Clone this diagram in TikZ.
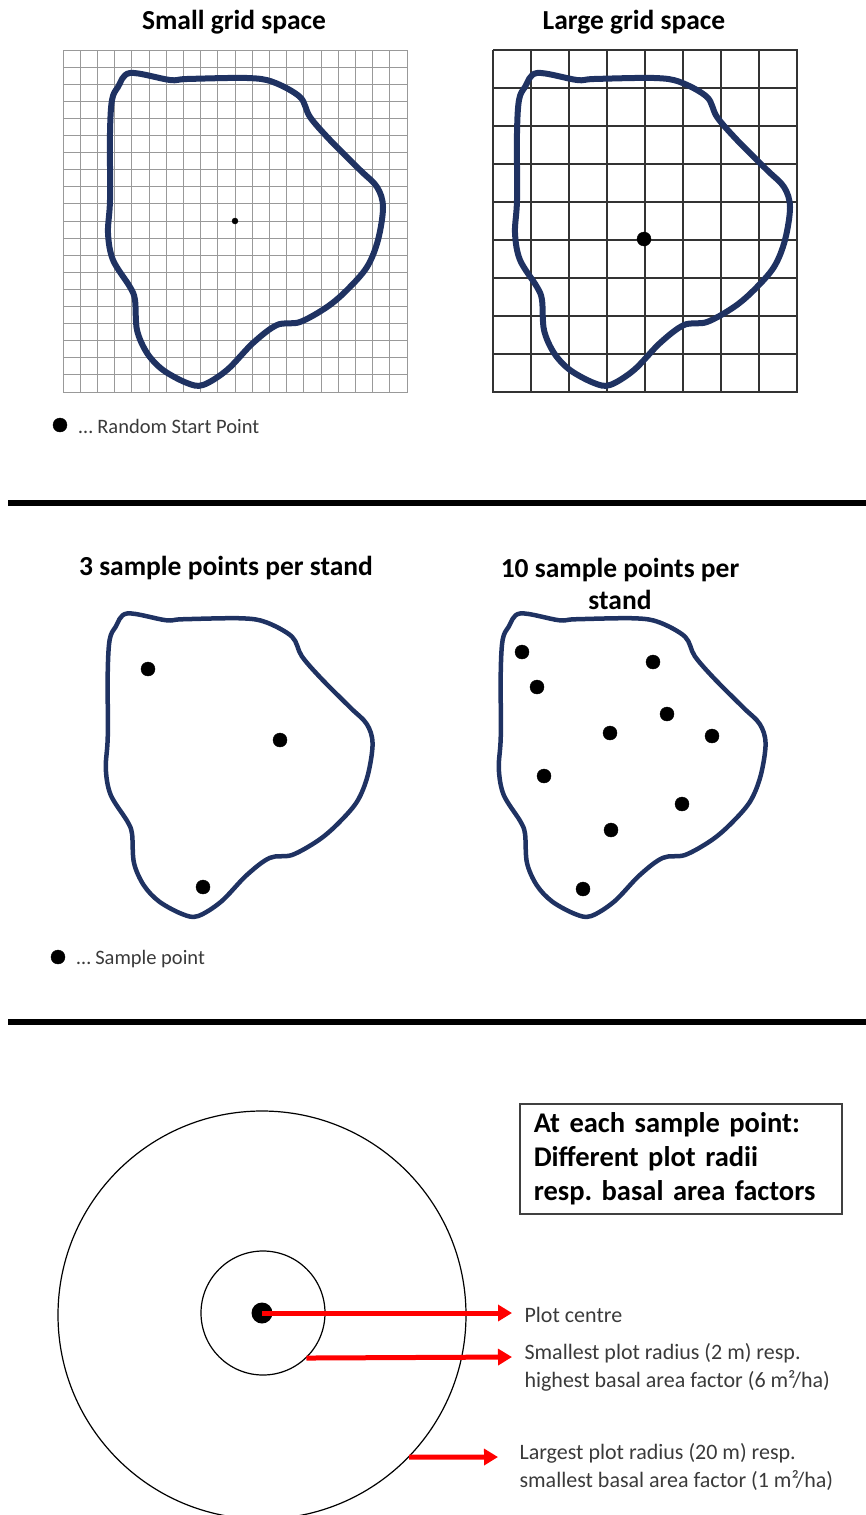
\documentclass[tikz,border=0pt]{standalone}
\usepackage{fontspec}
\setmainfont{Carlito}
\usetikzlibrary{arrows.meta}

\definecolor{standblue}{HTML}{1F3262}
\definecolor{textgray}{HTML}{3A3A3A}

\tikzset{
  heading/.style={font=\bfseries\fontsize{27.5}{32}\selectfont, align=center},
  legendtext/.style={anchor=west, text=textgray, font=\fontsize{20.5}{24}\selectfont},
  plotlabel/.style={anchor=west, align=left, text=textgray, font=\fontsize{22}{27.5}\selectfont},
  pointer/.style={draw=red, line width=5pt, -{Triangle[length=14pt, width=16pt]}},
  stand/.pic={
    \draw[standblue, line join=round, pic actions] plot[smooth cycle, tension=0.55] coordinates {
      (-105,-148) (-65,-141) (-48,-142) (12,-143) (38,-139) (65,-124) (75,-104)
      (95,-81) (125,-51) (142,-34) (148,-14) (143,19) (132,46) (112,69) (92,86)
      (65,101) (42,104) (18,122) (-8,149) (-32,164) (-48,162) (-72,149) (-88,132)
      (-98,109) (-100,79) (-105,66) (-122,39) (-127,12) (-125,-21) (-125,-88)
      (-123,-121) (-117,-134)};
  }
}

\begin{document}
\frenchspacing
\begin{tikzpicture}[x=1pt, y=-1pt]
  \useasboundingbox (0,0) rectangle (866,1515);

  % top row: grid spacing
  \node[heading] (smalltitle) at (234,22) {Small grid space};
  \node[heading] (largetitle) at (634,22) {Large grid space};

  \draw[gray!80, line width=0.9pt, shift={(63,50)}, xstep=17.2pt, ystep=17.1pt] (0,0) grid (344.5,342.5);
  \draw[black!80, line width=1.3pt, shift={(493,50)}, step=38pt] (0,0) grid (304.5,342.5);

  \pic[line width=6pt] at (235,221) {stand};
  \pic[line width=6pt] at (642,221) {stand};

  \draw[fill=black] (235,221) circle (3pt);
  \draw[fill=black] (644,239) circle (7pt);

  \draw[fill=black] (60,425) circle (7pt);
  \node[legendtext] (startlegend) at (75,426) {\ldots\ Random Start Point};

  \draw[line width=6pt] (8,503) -- (866,503);

  % middle row: number of sample points
  \node[heading] (threetitle) at (226,568) {3 sample points per stand};
  \node[heading] (tentitle) at (620,584) {10 sample points per\\stand};

  \pic[line width=4.5pt, scale=0.97] at (229,757) {stand};
  \pic[line width=4.5pt, scale=0.97] at (622,757) {stand};

  \draw[fill=black] (148,669) circle (7pt);
  \draw[fill=black] (280,740) circle (7pt);
  \draw[fill=black] (203,887) circle (7pt);

  \draw[fill=black] (522,652) circle (7pt);
  \draw[fill=black] (653,662) circle (7pt);
  \draw[fill=black] (537,687) circle (7pt);
  \draw[fill=black] (667,714) circle (7pt);
  \draw[fill=black] (610,733) circle (7pt);
  \draw[fill=black] (712,736) circle (7pt);
  \draw[fill=black] (544,776) circle (7pt);
  \draw[fill=black] (682,804) circle (7pt);
  \draw[fill=black] (611,830) circle (7pt);
  \draw[fill=black] (583,889) circle (7pt);

  \draw[fill=black] (58,957) circle (7pt);
  \node[legendtext] (samplelegend) at (73,959) {\ldots\ Sample point};

  \draw[line width=6pt] (8,1022) -- (866,1022);

  % bottom row: plot radii at one sample point
  \node[draw=black!75, line width=1.5pt, anchor=north west, text width=294pt, inner xsep=14pt, inner ysep=9pt,
        align=left, font=\bfseries\fontsize{28.5}{34}\selectfont] (infobox) at (519,1103)
        {At each sample point:\\Different plot radii\\resp. basal area factors};

  \node[circle, draw, line width=1.2pt, minimum size=408pt, inner sep=0pt] (outer) at (262,1315) {};
  \node[circle, draw, line width=1.2pt, minimum size=124pt, inner sep=0pt] (inner) at (263,1313) {};
  \node[circle, fill=black, minimum size=21pt, inner sep=0pt] (centre) at (262,1313) {};

  \node[plotlabel] (centrelabel) at (521,1315) {Plot centre};
  \node[plotlabel, anchor=north west] (smalllabel) at (521,1340) {Smallest plot radius (2 m) resp.\\highest basal area factor (6 m²/ha)};
  \node[plotlabel, anchor=north west] (largelabel) at (516,1440) {Largest plot radius (20 m) resp.\\smallest basal area factor (1 m²/ha)};

  \coordinate (centretip) at (512,1313);
  \coordinate (smalltip) at (512,1357);
  \coordinate (largetip) at (498,1457);

  \draw[pointer] (centre.center) -- (centretip);
  \draw[pointer] (inner.-46) -- (smalltip);
  \draw[pointer] (outer.-44) -- (largetip);
\end{tikzpicture}
\end{document}
